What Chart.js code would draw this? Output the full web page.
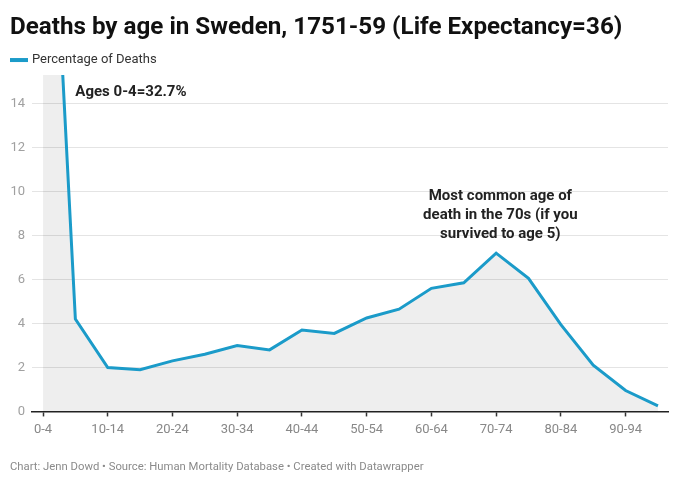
<!DOCTYPE html>
<html>
<head>
<meta charset="utf-8">
<script src="https://cdn.jsdelivr.net/npm/chart.js@4/dist/chart.umd.min.js"></script>
<style>
  html, body { margin: 0; padding: 0; background: #fff; }
  #wrap { width: 680px; height: 486px; position: relative; }
</style>
</head>
<body>
<div id="wrap"><canvas id="deathsChart"></canvas></div>
<script>
"use strict";

// DATA -----------------------
const ageGroups = [
  "0-4", "5-9", "10-14", "15-19", "20-24", "25-29", "30-34", "35-39", "40-44", "45-49",
  "50-54", "55-59", "60-64", "65-69", "70-74", "75-79", "80-84", "85-89", "90-94", "95+"
];

const deathShare = [
  32.7, 4.2, 2.0, 1.9, 2.3, 2.6, 3.0, 2.8, 3.7, 3.55,
  4.25, 4.65, 5.6, 5.85, 7.2, 6.05, 3.95, 2.1, 0.95, 0.25
];

const yTicks = [0, 2, 4, 6, 8, 10, 12, 14];

const seriesName = "Percentage of Deaths";
const chartTitle = "Deaths by age in Sweden, 1751-59 (Life Expectancy=36)";
const chartFooter = "Chart: Jenn Dowd \u2022 Source: Human Mortality Database \u2022 Created with Datawrapper";

const notes = [
  { lines: ["Ages 0-4=32.7%"], x: 1, y: 14.53, align: "left" },
  { lines: ["Most common age of", "death in the 70s (if you", "survived to age 5)"], x: 14.13, y: 9.8, align: "center" }
];

// STYLE -----------------------
const lineColor = "#1b9bc9";
const fontFamily = "Roboto, 'Noto Sans', sans-serif";

// Draw the text notes in data space
const notesPlugin = {
  id: "notes",
  afterDatasetsDraw(chart) {
    const ctx = chart.ctx;
    const xs = chart.scales.x;
    const ys = chart.scales.y;
    ctx.save();
    ctx.font = "bold 15px " + fontFamily;
    ctx.fillStyle = "#222";
    ctx.textBaseline = "middle";
    notes.forEach(note => {
      ctx.textAlign = note.align;
      const px = xs.getPixelForValue(note.x);
      const py = ys.getPixelForValue(note.y);
      note.lines.forEach((line, i) => ctx.fillText(line, px, py + i * 19));
    });
    ctx.restore();
  }
};

// Simple one-item legend sitting just above the plot area
const keyPlugin = {
  id: "key",
  afterDraw(chart) {
    const ctx = chart.ctx;
    const cy = chart.chartArea.top - 15;
    const left = chart.options.layout.padding.left;
    ctx.save();
    ctx.fillStyle = lineColor;
    ctx.fillRect(left, cy - 2, 18, 4);
    ctx.font = "13px " + fontFamily;
    ctx.fillStyle = "#333";
    ctx.textAlign = "left";
    ctx.textBaseline = "middle";
    ctx.fillText(seriesName, left + 22, cy);
    ctx.restore();
  }
};

const chart = new Chart(document.getElementById("deathsChart"), {
  type: "line",
  data: {
    datasets: [{
      label: seriesName,
      data: ageGroups.map((g, i) => ({ x: i, y: deathShare[i] })),
      borderColor: lineColor,
      backgroundColor: "rgba(0, 0, 0, 0.065)",
      borderWidth: 3,
      fill: "origin",
      pointRadius: 0,
      tension: 0
    }]
  },
  options: {
    responsive: true,
    maintainAspectRatio: false,
    animation: false,
    layout: { padding: { left: 10, right: 12, top: 0, bottom: 0 } },
    plugins: {
      title: {
        display: true,
        text: chartTitle,
        align: "start",
        color: "#111",
        font: { family: fontFamily, size: 24.2, weight: "bold" },
        padding: { top: 13, bottom: 33 }
      },
      subtitle: {
        display: true,
        text: chartFooter,
        position: "bottom",
        align: "start",
        color: "#8a8a8a",
        font: { family: fontFamily, size: 11.3 },
        padding: { top: 11, bottom: 12 }
      },
      legend: { display: false },
      tooltip: { enabled: false }
    },
    scales: {
      x: {
        type: "linear",
        min: -0.34,
        max: 19.31,
        afterFit(scale) { scale.height = 38; },
        border: { display: true, color: "#222", width: 1.5 },
        grid: { drawOnChartArea: false, drawTicks: true, tickLength: 5, tickColor: "#333", tickWidth: 1.5 },
        ticks: {
          stepSize: 2,
          includeBounds: false,
          autoSkip: false,
          maxRotation: 0,
          padding: 6,
          color: "#888",
          font: { family: fontFamily, size: 13 },
          callback: v => ageGroups[v]
        }
      },
      y: {
        min: 0,
        max: 15.3,
        afterFit(scale) { scale.width = 22; },
        afterBuildTicks(scale) { scale.ticks = yTicks.map(v => ({ value: v })); },
        border: { display: false },
        grid: { color: "#e4e4e4", drawTicks: false, lineWidth: 1 },
        ticks: {
          padding: 7,
          color: "#a0a0a0",
          font: { family: fontFamily, size: 13 }
        }
      }
    }
  },
  plugins: [notesPlugin, keyPlugin]
});
</script>
</body>
</html>
